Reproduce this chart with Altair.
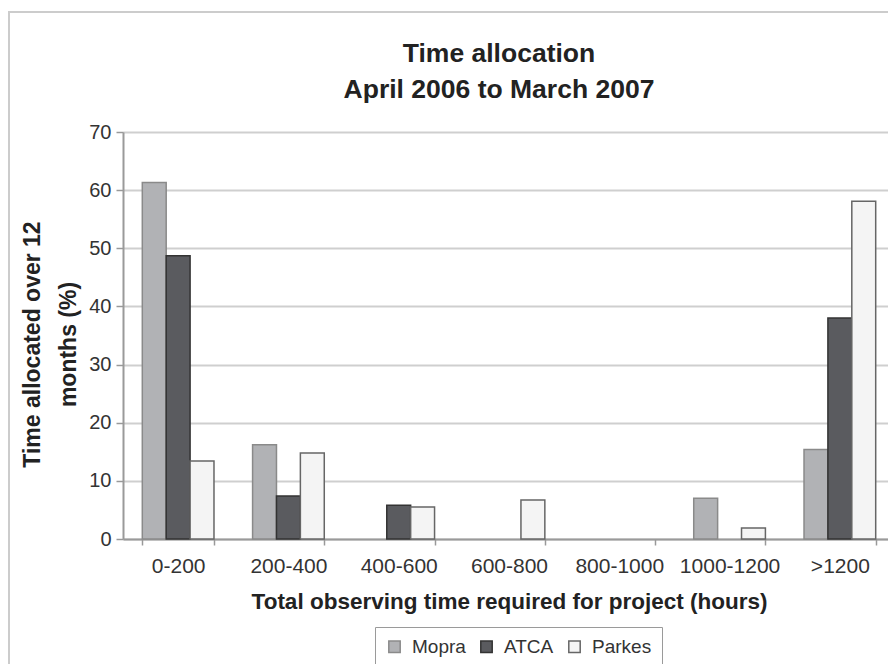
import altair as alt
import pandas as pd

categories = ["0-200", "200-400", "400-600", "600-800", "800-1000", "1000-1200", ">1200"]
telescopes = ["Mopra", "ATCA", "Parkes"]
mopra = [61.3, 16.2, 0, 0, 0, 7.0, 15.4]
atca = [48.7, 7.4, 5.8, 0, 0, 0, 38.0]
parkes = [13.4, 14.8, 5.5, 6.7, 0, 1.9, 58.1]
y_ticks = [0, 10, 20, 30, 40, 50, 60, 70]

fills = ["#b1b2b5", "#5a5b5f", "#f4f4f4"]
strokes = ["#8a8a8a", "#333333", "#666666"]

rows = []
for t, vals in zip(telescopes, [mopra, atca, parkes]):
    for c, v in zip(categories, vals):
        rows.append({"Range": c, "Telescope": t, "Value": v})
df = pd.DataFrame(rows)

FONT = "Liberation Sans"

legend = alt.Legend(
    title=None, orient="none", direction="horizontal", legendX=252, legendY=495,
    strokeColor="#9a9a9a", padding=10, symbolType="square", symbolSize=130,
    symbolStrokeWidth=1.5, labelFontSize=19, labelFont=FONT, labelColor="#333333",
    columnPadding=11, labelOffset=8, fillColor="white",
)

bars = alt.Chart(df).transform_filter("datum.Value > 0").mark_bar(strokeWidth=1.5).encode(
    x=alt.X("Range:N", sort=categories,
            scale=alt.Scale(domain=categories, paddingInner=0.35, paddingOuter=0.175),
            axis=alt.Axis(title="Total observing time required for project (hours)",
                          labelAngle=0, labelFontSize=21, labelFont=FONT, labelColor="#333333",
                          labelPadding=10, tickBand="extent", tickSize=6, tickColor="#999999",
                          tickWidth=1.5, domainColor="#9a9a9a", domainWidth=2,
                          titleFontSize=22.5, titleFont=FONT, titleFontWeight="bold",
                          titleColor="#222222", titlePadding=14)),
    xOffset=alt.XOffset("Telescope:N", sort=telescopes,
                        scale=alt.Scale(domain=telescopes, paddingInner=0, paddingOuter=0)),
    y=alt.Y("Value:Q", scale=alt.Scale(domain=[0, 70]),
            axis=alt.Axis(values=y_ticks, title=["Time allocated over 12", "months (%)"],
                          labelFontSize=20, labelFont=FONT, labelColor="#333333", labelPadding=5,
                          tickSize=7, tickColor="#999999", tickWidth=1.5,
                          domainColor="#9a9a9a", domainWidth=2,
                          gridColor="#cfcfcf", gridWidth=2,
                          titleFontSize=23, titleFont=FONT, titleFontWeight="bold",
                          titleColor="#222222", titleLineHeight=36, titlePadding=8,
                          titleY=212)),
    fill=alt.Fill("Telescope:N", sort=telescopes,
                  scale=alt.Scale(domain=telescopes, range=fills), legend=legend),
    stroke=alt.Stroke("Telescope:N", sort=telescopes,
                      scale=alt.Scale(domain=telescopes, range=strokes), legend=legend),
)

border = alt.Chart(pd.DataFrame({"a": [0]})).mark_rect(
    fill="transparent", stroke="#cccccc", strokeWidth=2
).encode(x=alt.value(-114), x2=alt.value(1000), y=alt.value(-120), y2=alt.value(800))

chart = alt.layer(border, bars).properties(
    width=772, height=407,
    title=alt.Title(text=["Time allocation", "April 2006 to March 2007"], fontSize=26.5,
                    fontWeight="bold", font=FONT, color="#222222", lineHeight=36,
                    offset=0, dy=92, dx=-10),
    autosize=alt.AutoSizeParams(type="none"),
    padding={"left": 115, "top": 124, "right": -7, "bottom": 125},
).configure_view(stroke="#c0c0c0", strokeWidth=2).configure(background="white")

chart.save("out.html", embed_options={"renderer": "svg", "actions": False})
